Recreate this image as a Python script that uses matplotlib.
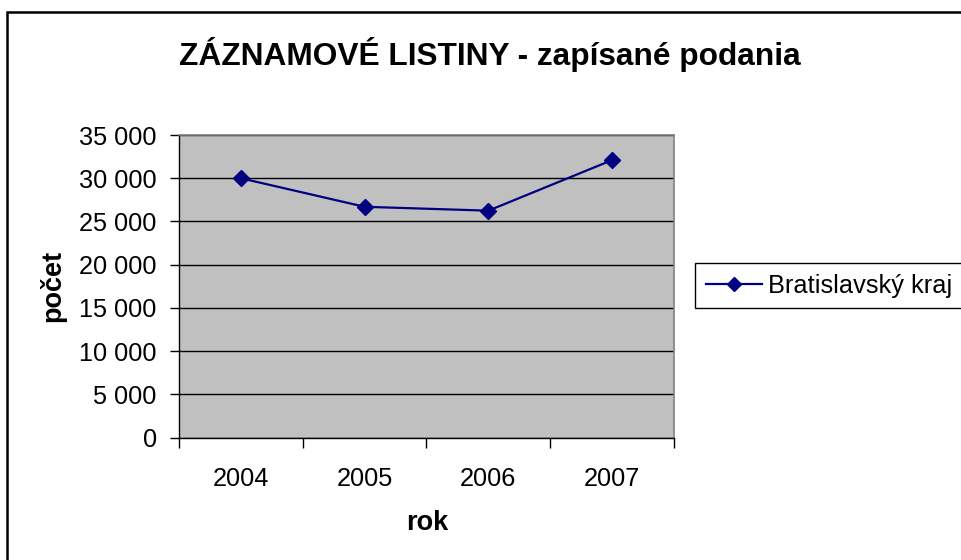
import matplotlib
matplotlib.use("Agg")
import matplotlib.pyplot as plt
from matplotlib.patches import Rectangle
from matplotlib.ticker import FuncFormatter, FixedLocator

plt.rcParams['font.family'] = ['Liberation Sans', 'DejaVu Sans']

years = ['2004', '2005', '2006', '2007']
values = [30000, 26700, 26250, 32100]
series_name = 'Bratislavský kraj'
title = 'ZÁZNAMOVÉ LISTINY - zapísané podania'
xlabel = 'rok'
ylabel = 'počet'
yticks = [0, 5000, 10000, 15000, 20000, 25000, 30000, 35000]

W, H = 962, 560
fig = plt.figure(figsize=(W / 100, H / 100), dpi=100)
fig.patch.set_facecolor('white')

ax = fig.add_axes([179 / W, 1 - 437.7 / H, (674 - 179) / W, (437.7 - 135) / H])
ax.set_facecolor('#C0C0C0')

x = list(range(len(years)))
ax.plot(x, values, color='#000080', lw=1.6, marker='D', markersize=8.5,
        markerfacecolor='#000080', markeredgecolor='#000080', label=series_name, zorder=3)

ax.set_xlim(-0.5, len(years) - 0.5)
ax.set_ylim(0, 35000)
ax.set_yticks(yticks)
ax.yaxis.set_major_formatter(FuncFormatter(lambda v, p: f"{int(v):,}".replace(",", " ")))
ax.grid(axis='y', color='black', lw=1.0, zorder=1)
ax.set_axisbelow(True)

# x ticks at category boundaries, labels at centers
ax.xaxis.set_major_locator(FixedLocator([i - 0.5 for i in range(len(years) + 1)]))
ax.xaxis.set_minor_locator(FixedLocator(x))
ax.set_xticklabels([''] * (len(years) + 1))
ax.set_xticklabels(years, minor=True)
ax.tick_params(axis='x', which='major', direction='out', length=7, width=1, color='black')
ax.tick_params(axis='x', which='minor', length=0, pad=21, labelsize=18.3)
ax.tick_params(axis='y', direction='out', length=6.5, width=1, color='black', labelsize=18.2, pad=9.5)

for s in ['top', 'right']:
    ax.spines[s].set_color('#808080')
    ax.spines[s].set_linewidth(1.2)
for s in ['left', 'bottom']:
    ax.spines[s].set_color('black')
    ax.spines[s].set_linewidth(1.0)

fig.text(490 / W, 1 - 55 / H, title, ha='center', va='center', fontsize=22.8, fontweight='bold')
fig.text(427 / W, 1 - 523 / H, xlabel, ha='center', va='center', fontsize=19.5, fontweight='bold')
fig.text(53 / W, 1 - 286 / H, ylabel, ha='center', va='center', fontsize=19.5, fontweight='bold', rotation=90)

leg = fig.legend(loc='upper left', bbox_to_anchor=(695 / W, 1 - 263 / H), borderaxespad=0,
                 fancybox=False, edgecolor='black', framealpha=1, fontsize=18.3,
                 handlelength=2.2, handletextpad=0.25, borderpad=0.42, markerscale=0.8)
leg.get_frame().set_linewidth(1.0)

fig.patches.append(Rectangle((7 / W, -0.1), 1.2, 1 - 12 / H + 0.1, transform=fig.transFigure,
                             fill=False, edgecolor='black', lw=1.8, clip_on=False))

fig.savefig('out.png', dpi=100)
